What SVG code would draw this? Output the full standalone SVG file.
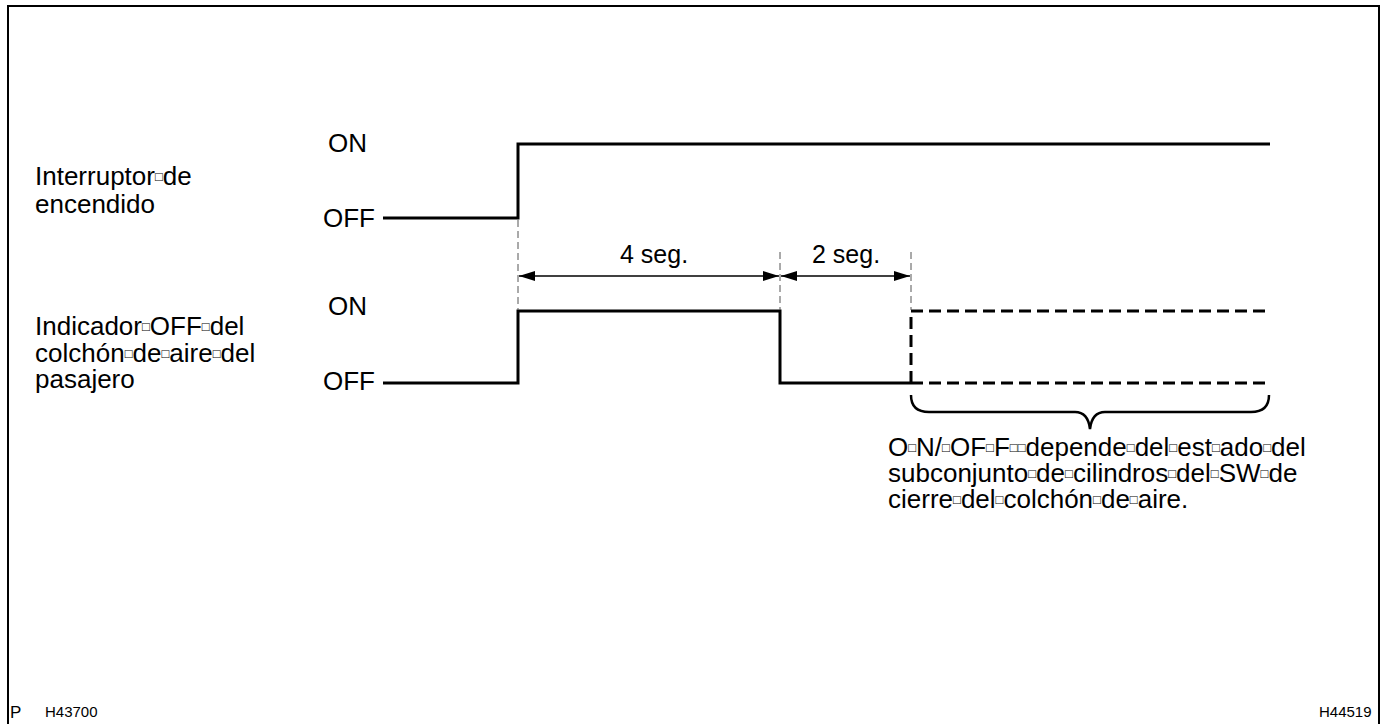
<svg xmlns="http://www.w3.org/2000/svg" width="1386" height="724" viewBox="0 0 1386 724">
<style>
text{font-family:"Liberation Sans",Arial,sans-serif;fill:#000}
.lbl{font-size:26px}
.b{font-size:13px;baseline-shift:4px}
.lvl{font-size:26px}
.dim{font-size:25px}
.ft{font-size:15px}
.sig{fill:none;stroke:#000;stroke-width:3}
.dsh{fill:none;stroke:#000;stroke-width:3;stroke-dasharray:12 6}
.ext{fill:none;stroke:#555;stroke-width:1;stroke-dasharray:7 4}
.dl{fill:none;stroke:#000;stroke-width:1.3}
.br{fill:none;stroke:#000;stroke-width:2.5}
</style>
<defs>
<marker id="ah" viewBox="0 0 16 10" refX="16" refY="5" markerWidth="16" markerHeight="10" markerUnits="userSpaceOnUse" orient="auto-start-reverse">
<path d="M0,0 L16,5 L0,10 Z" fill="#000"/>
</marker>
</defs>
<rect x="8" y="6" width="1371" height="740" fill="none" stroke="#000" stroke-width="2"/>
<g id="label-ignition">
<text class="lbl" x="35" y="185">Interruptor<tspan class="b">□</tspan>de</text>
<text class="lbl" x="35" y="213">encendido</text>
</g>
<g id="label-indicator">
<text class="lbl" x="35" y="335">Indicador<tspan class="b">□</tspan>OFF<tspan class="b">□</tspan>del</text>
<text class="lbl" x="35" y="362">colchón<tspan class="b">□</tspan>de<tspan class="b">□</tspan>aire<tspan class="b">□</tspan>del</text>
<text class="lbl" x="35" y="388">pasajero</text>
</g>
<g id="levels">
<text class="lvl" x="328" y="152">ON</text>
<text class="lvl" x="323" y="227">OFF</text>
<text class="lvl" x="328" y="315">ON</text>
<text class="lvl" x="323" y="390">OFF</text>
</g>
<g id="connectors">
<polyline id="sig-ignition" class="sig" points="383,218 518,218 518,144 1270,144"/>
<polyline id="sig-indicator" class="sig" points="383,383 518,383 518,311 780,311 780,383 911,383"/>
<polyline id="sig-indicator-off-dash" class="dsh" points="911,383 1270,383"/>
<polyline id="sig-indicator-on-dash" class="dsh" points="911,383 911,311 1270,311"/>
<line class="ext" x1="518" y1="220" x2="518" y2="310"/>
<line class="ext" x1="780" y1="252" x2="780" y2="310"/>
<line class="ext" x1="911" y1="252" x2="911" y2="310"/>
<line class="dl" x1="519" y1="276" x2="779" y2="276" marker-start="url(#ah)" marker-end="url(#ah)"/>
<line class="dl" x1="781" y1="276" x2="910" y2="276" marker-start="url(#ah)" marker-end="url(#ah)"/>
<path id="brace" class="br" d="M911,395 Q911,412 929,412 L1075,412 Q1088,412 1090,429 Q1092,412 1105,412 L1251,412 Q1269,412 1269,395"/>
</g>
<g id="dim-labels">
<text class="dim" x="620" y="263">4 seg.</text>
<text class="dim" x="812" y="263">2 seg.</text>
</g>
<g id="note">
<text class="lbl" x="888" y="456">O<tspan class="b">□</tspan>N/<tspan class="b">□</tspan>OF<tspan class="b">□</tspan>F<tspan class="b">□□</tspan>depende<tspan class="b">□</tspan>del<tspan class="b">□</tspan>est<tspan class="b">□</tspan>ado<tspan class="b">□</tspan>del</text>
<text class="lbl" x="888" y="482">subconjunto<tspan class="b">□</tspan>de<tspan class="b">□</tspan>cilindros<tspan class="b">□</tspan>del<tspan class="b">□</tspan>SW<tspan class="b">□</tspan>de</text>
<text class="lbl" x="888" y="508">cierre<tspan class="b">□</tspan>del<tspan class="b">□</tspan>colchón<tspan class="b">□</tspan>de<tspan class="b">□</tspan>aire.</text>
</g>
<g id="footer">
<text class="ft" x="10" y="718" style="font-size:17px">P</text>
<text class="ft" x="45" y="717">H43700</text>
<text class="ft" x="1319" y="717">H44519</text>
</g>
</svg>
